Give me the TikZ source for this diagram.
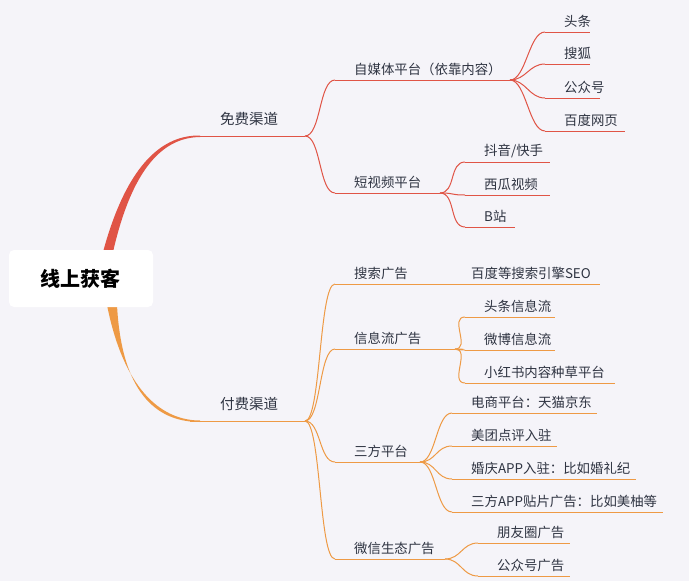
\documentclass[tikz,border=0pt]{standalone}
\usepackage{fontspec}
\setmainfont{Noto Sans CJK SC}
\definecolor{bg}{HTML}{F5F4F9}
\definecolor{redc}{HTML}{E05446}
\definecolor{orc}{HTML}{EE9A45}
\definecolor{txt}{HTML}{2F3442}
\tikzset{lbl/.style={anchor=south west,inner sep=0pt,text=txt,font=\fontsize{13.4}{15}\selectfont},
  ul/.style={line width=1pt},
  br/.style={line width=1pt}}
% \lf{name}{x1}{x2}{y}{text}{color}
\newcommand\lf[6]{%
  \coordinate (#1s) at (#2,#4);
  \coordinate (#1e) at (#3,#4);
  \draw[ul,#6] (#1s) -- (#1e);
  \node[lbl] (#1) at ([xshift=19pt,yshift=4pt]#1s) {#5};}
\newcommand\cn[3]{\draw[br,#3] (#1) .. controls ([xshift=16pt]#1) and ([xshift=-16pt]#2) .. (#2);}
\begin{document}
\begin{tikzpicture}[x=1pt,y=-1pt]
\fill[bg] (0,0) rectangle (689,581);
\useasboundingbox (0,0) rectangle (689,581);
\fill[redc] (103,252) .. controls (128,160) and (165,135) .. (200,135.5) -- (200,137) .. controls (168,137.5) and (134,160) .. (113,252) -- cycle;
\fill[orc] (107,305) .. controls (125,395) and (165,420.5) .. (200,420.5) -- (200,422) .. controls (162,422) and (122,400) .. (117,305) -- cycle;
\node[fill=white,rounded corners=5pt,minimum width=144pt,minimum height=57pt,inner sep=0pt,font=\fontsize{20}{24}\selectfont\bfseries] (root) at (81,278.5) {线上获客};
% level 1
\coordinate (frees) at (190,136); \coordinate (freee) at (305,136);
\draw[ul,redc] (frees) -- (freee);
\node[lbl,font=\fontsize{14.5}{16}\selectfont] (free) at (220,126) {免费渠道};
\coordinate (paids) at (190,421); \coordinate (paide) at (305,421);
\draw[ul,orc] (paids) -- (paide);
\node[lbl,font=\fontsize{14.5}{16}\selectfont] (paid) at (220,411) {付费渠道};
% free level 2
\lf{zm}{335}{510}{80}{自媒体平台（依靠内容）}{redc}
\lf{dsp}{335}{440}{193}{短视频平台}{redc}
\cn{freee}{zms}{redc}\cn{freee}{dsps}{redc}
\lf{tt}{545}{590}{32}{头条}{redc}
\lf{sh}{545}{590}{64}{搜狐}{redc}
\lf{gzh}{545}{600}{98}{公众号}{redc}
\lf{bd}{545}{625}{131}{百度网页}{redc}
\foreach \n in {tt,sh,gzh,bd}{\cn{zme}{\n s}{redc}}
\lf{dy}{465}{550}{162}{抖音/快手}{redc}
\lf{xg}{465}{550}{195}{西瓜视频}{redc}
\lf{bz}{465}{515}{227}{B站}{redc}
\foreach \n in {dy,xg,bz}{\cn{dspe}{\n s}{redc}}
% paid level 2
\lf{ss}{335}{440}{284}{搜索广告}{orc}
\lf{xx}{335}{455}{349}{信息流广告}{orc}
\lf{sf}{335}{420}{462}{三方平台}{orc}
\lf{wx}{335}{445}{559}{微信生态广告}{orc}
\foreach \n in {ss,xx,sf,wx}{\cn{paide}{\n s}{orc}}
\lf{seo}{452}{600}{284}{百度等搜索引擎SEO}{orc}
\draw[ul,orc] (sse) -- (seos);
\lf{ttx}{465}{555}{317}{头条信息流}{orc}
\lf{wbx}{465}{555}{350}{微博信息流}{orc}
\lf{xhs}{465}{615}{383}{小红书内容种草平台}{orc}
\foreach \n in {ttx,wbx,xhs}{\cn{xxe}{\n s}{orc}}
\lf{ds}{452}{597}{413}{电商平台：天猫京东}{orc}
\lf{mt}{452}{557}{446}{美团点评入驻}{orc}
\lf{hq}{452}{636}{479}{婚庆APP入驻：比如婚礼纪}{orc}
\lf{tp}{452}{663}{512}{三方APP贴片广告：比如美柚等}{orc}
\foreach \n in {ds,mt,hq,tp}{\cn{sfe}{\n s}{orc}}
\lf{pyq}{478}{570}{543}{朋友圈广告}{orc}
\lf{gzg}{478}{570}{576}{公众号广告}{orc}
\foreach \n in {pyq,gzg}{\cn{wxe}{\n s}{orc}}
\end{tikzpicture}
\end{document}
